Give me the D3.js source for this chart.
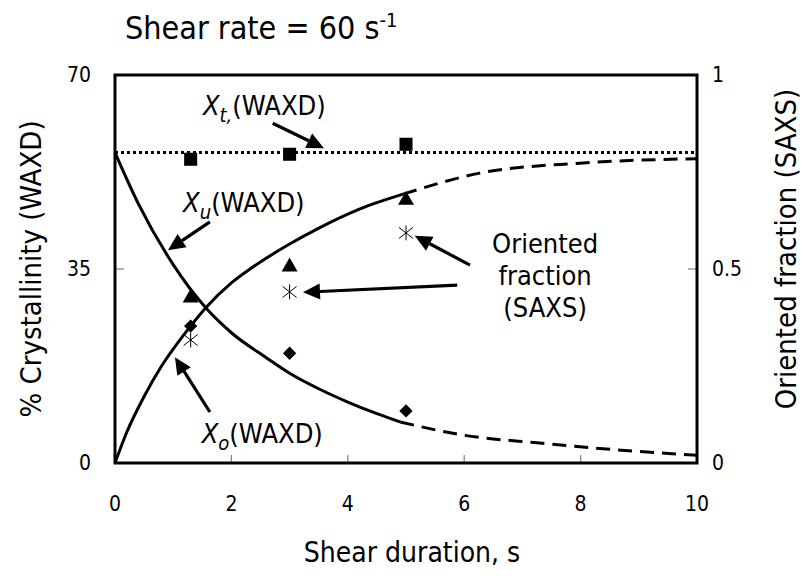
<!DOCTYPE html>
<html><head><meta charset="utf-8">
<script src="https://cdn.jsdelivr.net/npm/d3@7"></script>
<style>
html,body{margin:0;padding:0;background:#fff;}
svg text{font-family:"DejaVu Sans Condensed","DejaVu Sans",sans-serif;fill:#000;}
</style></head>
<body><svg id="c" width="803" height="578"></svg>
<script>
// ---- data ----
const xTicks = [0, 2, 4, 6, 8, 10];
const yLeftTicks = [0, 35, 70];
const yRightTicks = [0, 0.5, 1];
const duration = [1.3, 3, 5];
const xtWaxd = [54.8, 55.7, 57.5];        // squares
const xoWaxd = [29.8, 35.4, 47.4];        // triangles
const xuWaxd = [24.7, 19.8, 9.4];         // diamonds
const saxsFraction = [0.317, 0.441, 0.593]; // asterisks (right axis)
const xtLevel = 56;
const fallX = [0, 0.4, 1.0, 1.56, 2.0, 2.6, 3.0, 3.5, 4.0, 4.5, 4.9];
const fallY = [56, 46.8, 35.8, 28.0, 23.5, 19.0, 16.2, 13.4, 11.0, 8.9, 7.4];
const fallDashX = [4.9, 6.0, 7.3, 8.7, 10];
const fallDashY = [7.4, 5.0, 3.6, 2.3, 1.4];
const riseX = [0, 0.2, 0.5, 0.8, 1.1, 1.3, 1.56, 2.0, 2.32, 3.0, 3.47, 4.2, 4.95];
const riseY = [0, 5.5, 12.0, 17.5, 22.0, 24.7, 28.0, 32.5, 35.0, 39.5, 42.2, 45.8, 48.5];
const riseDashX = [4.95, 6.27, 7.99, 10];
const riseDashY = [48.5, 52.3, 54.1, 54.9];

const svg = d3.select("#c");
const L = 115, R = 697, T = 75, B = 463;
const x = d3.scaleLinear().domain([0, 10]).range([L, R]);
const y = d3.scaleLinear().domain([0, 70]).range([B, T]);
const y2 = d3.scaleLinear().domain([0, 1]).range([B, T]);

// title
const title = svg.append("text").attr("x", 125).attr("y", 39).style("font-size", "32px");
title.append("tspan").text("Shear rate = 60 s");
title.append("tspan").attr("dy", -12).style("font-size", "20px").text("-1");

// ticks (inward, gray)
const tickG = svg.append("g").attr("stroke", "#808080").attr("stroke-width", 1.2);
xTicks.slice(1, -1).forEach(t => tickG.append("line").attr("x1", x(t)).attr("x2", x(t)).attr("y1", B).attr("y2", B - 8));
yLeftTicks.slice(1, -1).forEach(t => tickG.append("line").attr("x1", L).attr("x2", L + 9).attr("y1", y(t)).attr("y2", y(t)));
yRightTicks.slice(1, -1).forEach(t => tickG.append("line").attr("x1", R).attr("x2", R - 9).attr("y1", y2(t)).attr("y2", y2(t)));

// tick labels
svg.append("g").selectAll("text").data(xTicks).join("text")
  .attr("x", d => x(d)).attr("y", 511).attr("text-anchor", "middle").style("font-size", "21px").text(d => d);
svg.append("g").selectAll("text").data(yLeftTicks).join("text")
  .attr("x", 91).attr("y", d => y(d) + 7).attr("text-anchor", "end").style("font-size", "21px").text(d => d);
svg.append("g").selectAll("text").data(yRightTicks).join("text")
  .attr("x", 712).attr("y", d => y2(d) + 7).attr("text-anchor", "start").style("font-size", "21px").text(d => d);

// axis titles
svg.append("text").attr("x", (L + R) / 2 + 6).attr("y", 562).attr("text-anchor", "middle").style("font-size", "28px").text("Shear duration, s");
svg.append("text").attr("transform", `translate(41,${(T + B) / 2}) rotate(-90)`).attr("text-anchor", "middle").style("font-size", "29px").text("% Crystallinity (WAXD)");
svg.append("text").attr("transform", `translate(796,${(T + B) / 2 - 20}) rotate(-90)`).attr("text-anchor", "middle").style("font-size", "29px").text("Oriented fraction (SAXS)");

// lines
const line = d3.line().x(d => x(d[0])).y(d => y(d[1])).curve(d3.curveMonotoneX);
const zip = (a, b) => a.map((v, i) => [v, b[i]]);
svg.append("line").attr("x1", x(0)).attr("x2", x(10)).attr("y1", y(xtLevel)).attr("y2", y(xtLevel))
  .attr("stroke", "#000").attr("stroke-width", 3).attr("stroke-dasharray", "3,3");
svg.append("path").attr("d", line(zip(fallX, fallY))).attr("fill", "none").attr("stroke", "#000").attr("stroke-width", 3);
svg.append("path").attr("d", line(zip(fallDashX, fallDashY))).attr("fill", "none").attr("stroke", "#000").attr("stroke-width", 3).attr("stroke-dasharray", "14,8");
svg.append("path").attr("d", line(zip(riseX, riseY))).attr("fill", "none").attr("stroke", "#000").attr("stroke-width", 3);
svg.append("path").attr("d", line(zip(riseDashX, riseDashY))).attr("fill", "none").attr("stroke", "#000").attr("stroke-width", 3).attr("stroke-dasharray", "14,8");

// markers
const sq = d3.symbol().type(d3.symbolSquare).size(170);
const tri = d3.symbol().type(d3.symbolTriangle).size(110);
const dia = d3.symbol().type(d3.symbolSquare).size(88);
svg.append("g").selectAll("path").data(zip(duration, xtWaxd)).join("path")
  .attr("transform", d => `translate(${x(d[0])},${y(d[1])})`).attr("d", sq).attr("fill", "#000");
svg.append("g").selectAll("path").data(zip(duration, xoWaxd)).join("path")
  .attr("transform", d => `translate(${x(d[0])},${y(d[1])})`).attr("d", tri).attr("fill", "#000");
svg.append("g").selectAll("path").data(zip(duration, xuWaxd)).join("path")
  .attr("transform", d => `translate(${x(d[0])},${y(d[1])}) rotate(45)`).attr("d", dia).attr("fill", "#000");
svg.append("g").selectAll("path").data(zip(duration, saxsFraction)).join("path")
  .attr("transform", d => `translate(${x(d[0])},${y2(d[1])})`)
  .attr("d", "M0,-7.5V7.5M-7,-5.5L7,5.5M-7,5.5L7,-5.5").attr("stroke", "#000").attr("stroke-width", 1).attr("fill", "none");

// annotation arrows (data units)
const arrows = [
  [[2.71, 61.3], [3.59, 56.8]],
  [[1.63, 43.5], [0.91, 38.4]],
  [[1.63, 9.2], [1.03, 19.1]],
  [[5.88, 32.1], [3.23, 30.8]],
  [[6.10, 35.7], [5.15, 41.0]]
];
arrows.forEach(([a, b]) => {
  const x1 = x(a[0]), y1 = y(a[1]), x2 = x(b[0]), y2p = y(b[1]);
  const ang = Math.atan2(y2p - y1, x2 - x1);
  const hl = 17, hw = 8;
  const bx = x2 - hl * Math.cos(ang), by = y2p - hl * Math.sin(ang);
  svg.append("line").attr("x1", x1).attr("y1", y1).attr("x2", bx).attr("y2", by).attr("stroke", "#000").attr("stroke-width", 3.2);
  const px = -Math.sin(ang) * hw, py = Math.cos(ang) * hw;
  svg.append("path").attr("d", `M${x2},${y2p}L${bx + px},${by + py}L${bx - px},${by - py}Z`).attr("fill", "#000");
});

// annotation labels
function xlabel(px, py, sub) {
  const t = svg.append("text").attr("x", x(px)).attr("y", y(py)).style("font-size", "27px");
  t.append("tspan").style("font-style", "italic").text("X");
  t.append("tspan").style("font-style", "italic").style("font-size", "20px").attr("dy", 7).text(sub);
  t.append("tspan").attr("dy", -7).text("(WAXD)");
}
xlabel(1.51, 62.8, "t,");
xlabel(1.17, 45.3, "u");
xlabel(1.49, 3.6, "o");
const of = svg.append("text").attr("text-anchor", "middle").style("font-size", "27px");
["Oriented", "fraction", "(SAXS)"].forEach((s, i) =>
  of.append("tspan").attr("x", x(7.39)).attr("y", y(37.9) + i * 32).text(s));

// frame
svg.append("rect").attr("x", L).attr("y", T).attr("width", R - L).attr("height", B - T)
  .attr("fill", "none").attr("stroke", "#000").attr("stroke-width", 3);
</script></body></html>
